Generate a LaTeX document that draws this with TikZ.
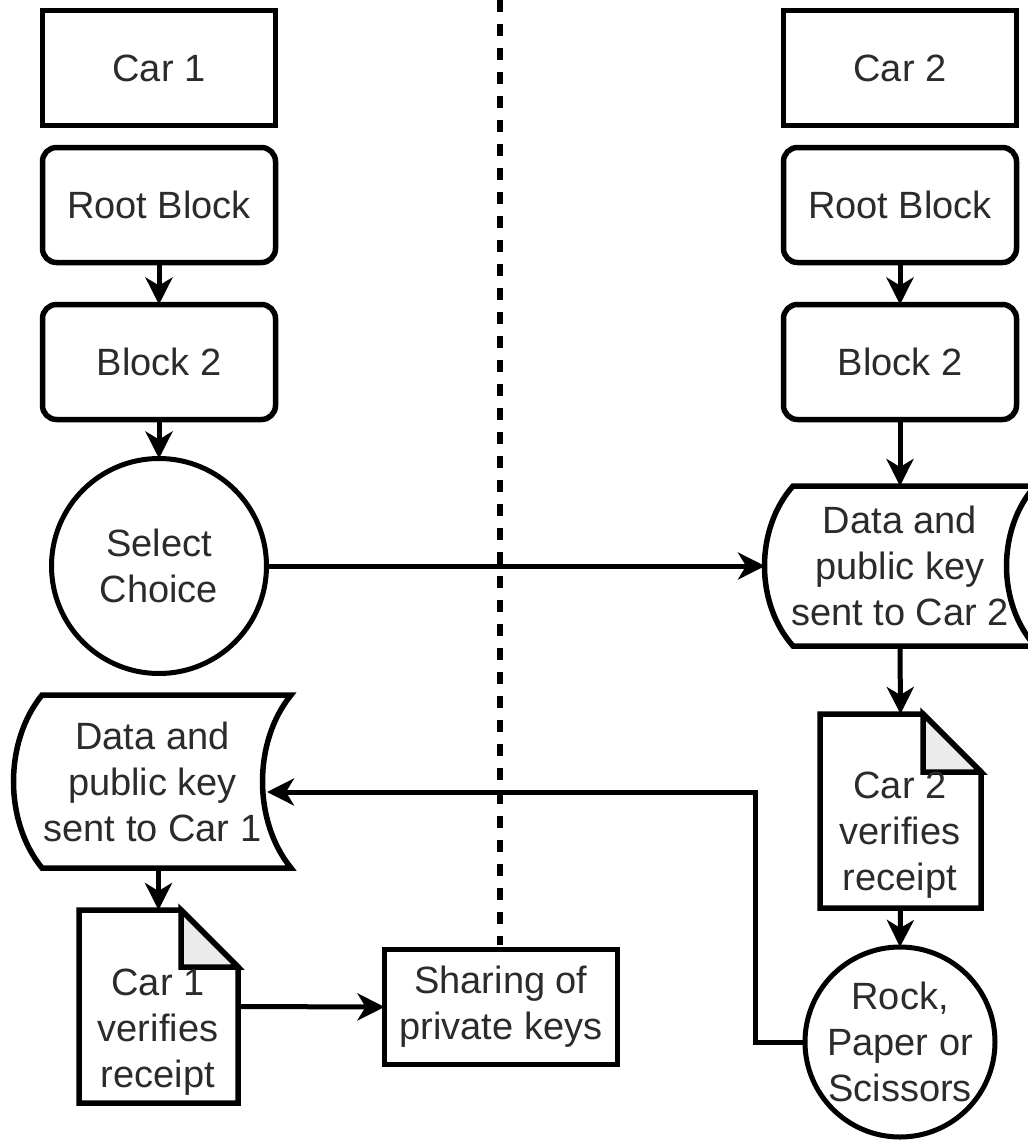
\documentclass[tikz,border=0pt]{standalone}
\usepackage{fontspec}
\setmainfont{Liberation Sans}
\usetikzlibrary{arrows.meta,calc}
\definecolor{txt}{HTML}{2B2B2B}
\definecolor{foldgray}{HTML}{EBEBEB}
\newcommand\flowfont{\fontsize{38}{46}\selectfont}

\begin{document}
\begin{tikzpicture}[x=1pt,y=-1pt,
  lbl/.style={font=\flowfont, text=txt, align=center, inner sep=0pt, outer sep=0pt},
  boxshape/.style={lbl, draw=black, line width=5.5pt, rectangle,
                   minimum width=233pt, minimum height=115pt},
  roundshape/.style={boxshape, rounded corners=14pt},
  circshape/.style={lbl, draw=black, line width=5pt, circle},
  area/.style={lbl, rectangle},
  outline/.style={draw=black, line width=5.5pt, line join=miter},
  conn/.style={line width=5pt, -{Stealth[length=27pt, width=27pt, inset=8pt]}},
  divider/.style={line width=5.5pt, dash pattern=on 12pt off 12pt}
]
\useasboundingbox (0,0) rectangle (1028,1144);
\clip (0,0) rectangle (1028,1144);

% divider between the two cars
\coordinate (divtop) at (500,0);
\coordinate (divbot) at (500,945);
\draw[divider] (divtop) -- (divbot);

% ---- Car 1 column ----
\node[boxshape] (car1) at (159,68) {Car 1};
\node[roundshape] (root1) at (159,205) {Root Block};
\node[roundshape] (blk1) at (159,362) {Block 2};
\node[circshape, minimum size=215pt] (sel) at (159,566) {Select\\Choice};

\node[area, minimum width=277pt, minimum height=173pt] (data1) at (152.5,781.5)
  {Data and\\public key\\sent to Car 1};
\draw[outline] ($(data1.north west)+(28,0)$) -- (data1.north east)
  .. controls ($(data1.north east)+(-38,47)$) and ($(data1.south east)+(-38,-47)$) .. (data1.south east)
  -- ($(data1.south west)+(28,0)$)
  .. controls ($(data1.south west)+(-10,-47)$) and ($(data1.north west)+(-10,47)$) .. cycle;

\node[area, minimum width=159pt, minimum height=193pt] (cv1) at (158.5,1006.5) {};
\draw[outline] (cv1.north west) -- ($(cv1.north east)+(-57,0)$) -- ($(cv1.north east)+(0,57)$)
  -- (cv1.south east) -- (cv1.south west) -- cycle;
\filldraw[outline, fill=foldgray] ($(cv1.north east)+(-57,0)$) -- ($(cv1.north east)+(-57,57)$)
  -- ($(cv1.north east)+(0,57)$) -- cycle;
\node[lbl] (cv1txt) at (158,1032) {Car 1\\verifies\\receipt};

\node[boxshape] (share) at (501,1007) {Sharing of\\private keys};

% ---- Car 2 column ----
\node[boxshape] (car2) at (900,68) {Car 2};
\node[roundshape] (root2) at (900,205) {Root Block};
\node[roundshape] (blk2) at (900,362) {Block 2};

\node[area, minimum width=270pt, minimum height=160pt] (data2) at (900,566)
  {Data and\\public key\\sent to Car 2};
\draw[outline] ($(data2.north west)+(28,0)$) -- (data2.north east)
  .. controls ($(data2.north east)+(-38,43)$) and ($(data2.south east)+(-38,-43)$) .. (data2.south east)
  -- ($(data2.south west)+(28,0)$)
  .. controls ($(data2.south west)+(-10,-43)$) and ($(data2.north west)+(-10,43)$) .. cycle;

\node[area, minimum width=161pt, minimum height=194pt] (cv2) at (900.5,811) {};
\draw[outline] (cv2.north west) -- ($(cv2.north east)+(-58,0)$) -- ($(cv2.north east)+(0,58)$)
  -- (cv2.south east) -- (cv2.south west) -- cycle;
\filldraw[outline, fill=foldgray] ($(cv2.north east)+(-58,0)$) -- ($(cv2.north east)+(-58,58)$)
  -- ($(cv2.north east)+(0,58)$) -- cycle;
\node[lbl] (cv2txt) at (900,835) {Car 2\\verifies\\receipt};

\node[circshape, minimum size=190pt] (rock) at (900,1042) {Rock,\\Paper or\\Scissors};

% ---- connectors ----
\draw[conn] (root1.south) -- (blk1.north);
\draw[conn] (blk1.south) -- (sel.north);
\draw[conn] (root2.south) -- (blk2.north);
\draw[conn] (blk2.south) -- (data2.north);
\draw[conn] (sel.east) -- (data2.west);
\draw[conn] (data2.south) -- (cv2.north);
\draw[conn] (cv2.south) -- (rock.north);
\coordinate (jog) at (755,792);
\coordinate (d1in) at (267,792);
\draw[conn] (rock.west) -| (jog) -- (d1in);
\draw[conn] (cv1.north |- data1.south) -- (cv1.north);
\draw[conn] (cv1.east) -- (share.west);
\end{tikzpicture}
\end{document}
